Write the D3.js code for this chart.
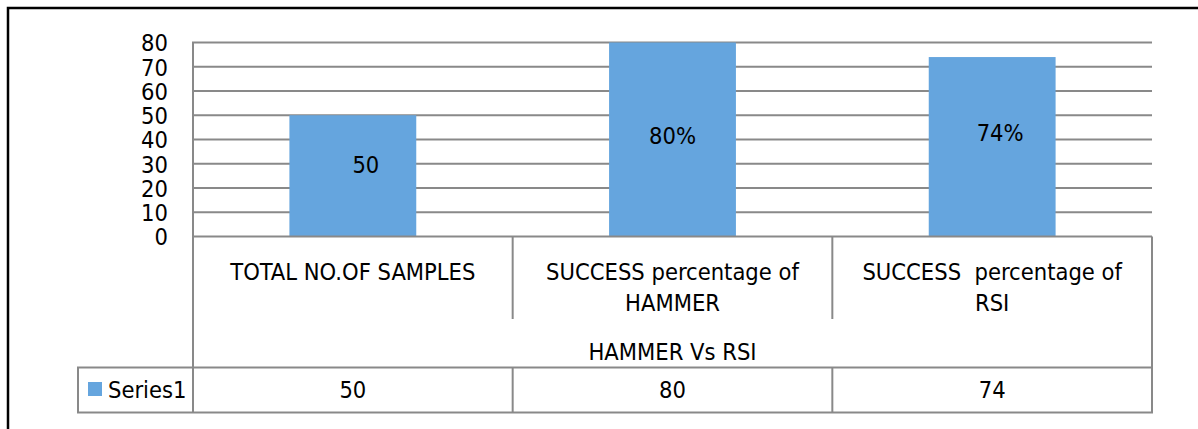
<!DOCTYPE html>
<html>
<head>
<meta charset="utf-8">
<script src="https://cdn.jsdelivr.net/npm/d3@7"></script>
<style>
  html, body { margin: 0; padding: 0; background: #fff; }
  svg { display: block; }
  text { font-family: "DejaVu Sans Condensed", "Liberation Sans", sans-serif; font-stretch: condensed; fill: #000; }
</style>
</head>
<body>
<svg id="chart" width="1198" height="429"></svg>
<script>
// Chart data
const categories = ["TOTAL NO.OF SAMPLES", "SUCCESS percentage of HAMMER", "SUCCESS  percentage of RSI"];
const categoryLines = [["TOTAL NO.OF SAMPLES"], ["SUCCESS percentage of", "HAMMER"], ["SUCCESS  percentage of", "RSI"]];
const series1 = [50, 80, 74];
const barLabels = ["50", "80%", "74%"];
const yTicks = [0, 10, 20, 30, 40, 50, 60, 70, 80];
const axisTitle = "HAMMER Vs RSI";
const seriesName = "Series1";

// Manual nudges of the data labels inside the bars (px)
const labelNudge = [[13, -11], [0, -4], [8, -14]];

const W = 1198, H = 429;
const plot = { left: 193, right: 1152, top: 42.5, bottom: 236.5 };
const catRowBottom = 319;
const legendTop = 367.5, legendBottom = 412.5, legendLeft = 78;
const gridColor = "#898989";
const barColor = "#65A5DE";
const fontSize = 23.5;

const svg = d3.select("#chart");

// Outer frame (runs past the right and bottom edges)
svg.append("rect")
  .attr("x", 8).attr("y", 8)
  .attr("width", W + 20).attr("height", H + 20)
  .attr("fill", "none").attr("stroke", "#000").attr("stroke-width", 2.5);

const x = d3.scaleBand().domain(categories).range([plot.left, plot.right]).padding(0);
const y = d3.scaleLinear().domain([0, 80]).range([plot.bottom, plot.top]);
const gapWidth = 1.52;
const barW = x.bandwidth() / (1 + gapWidth);

// Horizontal gridlines
svg.append("g").selectAll("line")
  .data(yTicks.filter(d => d > 0))
  .join("line")
  .attr("x1", plot.left - 1).attr("x2", plot.right)
  .attr("y1", d => y(d)).attr("y2", d => y(d))
  .attr("stroke", gridColor).attr("stroke-width", 2);

// Y axis via d3.axisLeft, styled down to plain labels
const yAxis = svg.append("g")
  .attr("transform", `translate(${plot.left},0)`)
  .call(d3.axisLeft(y).tickValues(yTicks).tickSize(0).tickPadding(25));
yAxis.select(".domain").remove();
yAxis.selectAll("text")
  .attr("font-size", fontSize)
  .attr("font-family", null)
  .attr("dy", "0.36em");

// Bars
svg.append("g").selectAll("rect")
  .data(series1)
  .join("rect")
  .attr("x", (d, i) => x(categories[i]) + x.bandwidth() / 2 - barW / 2)
  .attr("width", barW)
  .attr("y", d => y(d))
  .attr("height", d => y(0) - y(d))
  .attr("fill", barColor);

// Data labels
svg.append("g").selectAll("text")
  .data(series1)
  .join("text")
  .attr("x", (d, i) => x(categories[i]) + x.bandwidth() / 2 + labelNudge[i][0])
  .attr("y", (d, i) => (y(d) + y(0)) / 2 + labelNudge[i][1])
  .attr("dy", "0.36em")
  .attr("text-anchor", "middle")
  .attr("font-size", fontSize)
  .text((d, i) => barLabels[i]);

// Category table lines
const tbl = svg.append("g").attr("stroke", gridColor).attr("stroke-width", 2);
tbl.append("line").attr("x1", plot.left).attr("x2", plot.left).attr("y1", plot.top).attr("y2", legendBottom);
tbl.append("line").attr("x1", plot.left).attr("x2", plot.right).attr("y1", plot.bottom).attr("y2", plot.bottom);
tbl.append("line").attr("x1", plot.right).attr("x2", plot.right).attr("y1", plot.bottom).attr("y2", legendBottom);
categories.slice(1).forEach(c => {
  tbl.append("line").attr("x1", x(c)).attr("x2", x(c)).attr("y1", plot.bottom).attr("y2", catRowBottom);
  tbl.append("line").attr("x1", x(c)).attr("x2", x(c)).attr("y1", legendTop).attr("y2", legendBottom);
});
tbl.append("rect")
  .attr("x", legendLeft).attr("y", legendTop)
  .attr("width", plot.right - legendLeft).attr("height", legendBottom - legendTop)
  .attr("fill", "none");

// Category labels
const catG = svg.append("g");
categories.forEach((c, i) => {
  categoryLines[i].forEach((line, j) => {
    catG.append("text")
      .attr("x", x(c) + x.bandwidth() / 2)
      .attr("y", 271.5 + j * 31)
      .attr("dy", "0.36em")
      .attr("text-anchor", "middle")
      .attr("font-size", fontSize)
      .style("white-space", "pre")
      .text(line);
  });
});

// Axis title
svg.append("text")
  .attr("x", (plot.left + plot.right) / 2)
  .attr("y", 352)
  .attr("dy", "0.36em")
  .attr("text-anchor", "middle")
  .attr("font-size", fontSize)
  .text(axisTitle);

// Data table row
svg.append("rect")
  .attr("x", 88).attr("y", 382).attr("width", 14).attr("height", 14)
  .attr("fill", barColor);
svg.append("text")
  .attr("x", 108).attr("y", 389.5).attr("dy", "0.36em")
  .attr("font-size", fontSize)
  .text(seriesName);
svg.append("g").selectAll("text")
  .data(series1)
  .join("text")
  .attr("x", (d, i) => x(categories[i]) + x.bandwidth() / 2)
  .attr("y", 389.5)
  .attr("dy", "0.36em")
  .attr("text-anchor", "middle")
  .attr("font-size", fontSize)
  .text(d => d);
</script>
</body>
</html>
